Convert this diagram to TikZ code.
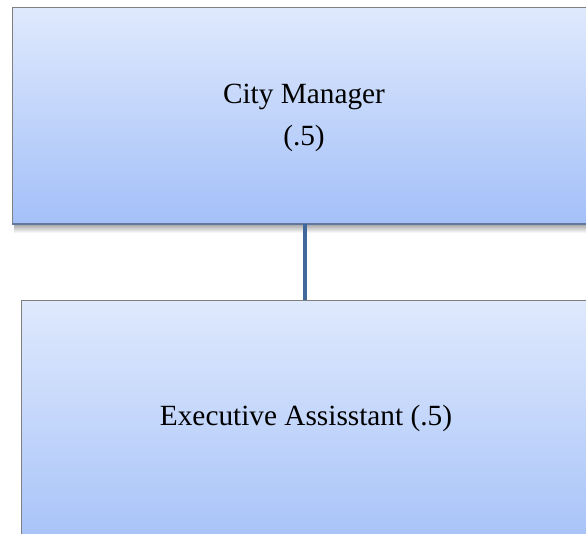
\documentclass[tikz,border=0pt]{standalone}
\usepackage{fontspec}
\setmainfont{Liberation Serif}
\definecolor{boxtop}{RGB}{223,233,253}
\definecolor{boxbot}{RGB}{163,192,248}
\definecolor{edgegray}{RGB}{128,128,128}
\definecolor{edgeblue}{RGB}{100,120,155}
\definecolor{connblue}{RGB}{65,104,154}
\tikzset{
  orgbox/.style={rectangle, anchor=north west, inner sep=0pt, top color=boxtop, bottom color=boxbot, draw=edgegray, line width=1.2pt},
  lbl/.style={anchor=base, inner sep=0pt, font=\fontsize{29.3}{35}\selectfont},
  conn/.style={draw=connblue, line width=4.5pt}
}
\begin{document}
\begin{tikzpicture}[x=1pt,y=-1pt]
\useasboundingbox (0,0) rectangle (586,533);
% shadow under top box
\shade[top color=black!40, bottom color=white] (14,223) rectangle (600,233);
\node[orgbox, minimum width=600pt, minimum height=216pt] (top) at (12,7) {};
\draw[edgeblue, line width=1.5pt] (top.south west) -- (top.south east);
\node[orgbox, minimum width=600pt, minimum height=260pt] (bot) at (21,300) {};
\coordinate (cx) at (305,0);
\draw[conn] (top.south -| cx) -- (bot.north -| cx);
\node[lbl] (t1) at (304,103) {City Manager};
\node[lbl] (t2) at (304,145) {(.5)};
\node[lbl] (t3) at (306,425) {Executive Assisstant (.5)};
\end{tikzpicture}
\end{document}
